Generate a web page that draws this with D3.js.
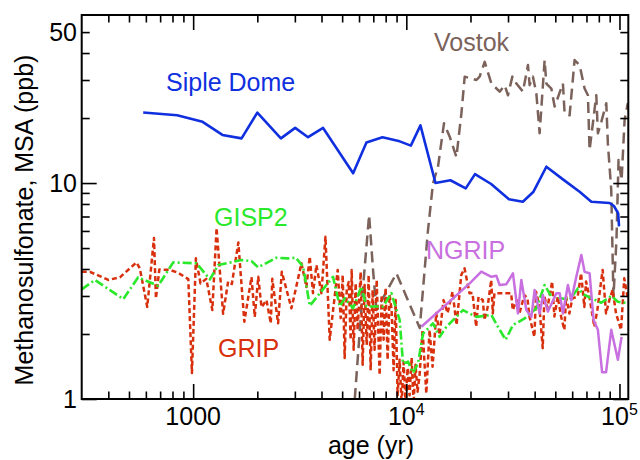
<!DOCTYPE html>
<html><head><meta charset="utf-8">
<script src="https://cdn.jsdelivr.net/npm/d3@7"></script>
<style>body{margin:0;background:#fff}svg{display:block}</style>
</head><body>
<svg id="c" width="640" height="460"></svg>
<script>
// ---- data (age in years, MSA in ppb) ----
const sipleAge = [583,841,1107,1372,1687,2000,2580,3010,3460,4070,5630,6500,7730,9310,10500,11650,13700,16100,19000,21000,25000,30300,35200,39500,45400,54300,65000,73800,89900,94200,98600,99500];
const sipleMSA = [21.2,20.6,19.2,16.7,16.1,21.2,16.1,18.0,16.3,18.0,11.1,15.4,16.3,15.6,14.9,18.5,10.0,10.3,9.45,11.0,9.9,8.41,8.19,9.12,11.9,10.4,9.12,8.19,8.08,7.83,7.24,6.3];

const vostokAge = [5730,6250,6690,6980,7240,8990,11560,12640,13340,14080,15020,15980,17180,18130,18790,21320,22080,23320,25060,27410,28930,29990,31440,32830,35250,37210,37890,39260,40740,42210,44550,45380,47900,49630,54280,55290,58340,61580,65010,68610,71110,72400,77850,79200,82170,86720,88200,91500,93700,96800,99000,102300,105700,109400];
const vostokMSA = [1.0,3.2,7.11,3.96,2.58,3.82,2.13,6.06,9.97,11.9,18.9,16.4,13.2,21.0,31.1,30.0,31.1,36.4,28.9,26.5,28.4,25.5,31.1,28.9,26.5,35.2,28.4,31.1,26.0,17.0,37.1,28.9,27.4,22.6,28.9,21.0,20.6,37.1,35.2,27.4,25.5,14.2,25.5,17.0,19.2,23.4,15.3,9.28,2.97,5.45,12.8,10.3,19.6,23.4];

const gripAge = [300,328,400,453,542,562,609,655,669,694,778,851,949,987,1030,1083,1153,1230,1288,1382,1459,1519,1629,1738,1878,1945,2021,2092,2208,2313,2351,2503,2605,2892,3221,3399,3523,3649,3787,3996,4175,4371,4612,4765,4922,5030,5137,5254,5366,5482,5542,5662,5786,5911,6107,6240,6373,6518,6656,6803,6951,7099,7261,7496,7661,7826,7998,8171,8350,8534,8717,8909,9102,9301,9506,9710,9924,10140,10360,10590,10820,11050,11290,11540,11920,12410,12855,13280,13820,14320,14950,15610,16480,17210,18100,18750,19790,20440,21270,21810,22850,23260,24030,25020,25450,25910,27360,29190,31040,31570,32880,33940,35810,37000,37810,39890,40640,42120,43640,44440,45910,48310,49500,51330,53230,55130,56190,58210,60130,63690,66040,68410,69700,72230,76200,78730,83360,86500,89620,92850,96340,101700,105300,109000];
const gripMSA = [3.88,3.88,3.56,3.66,4.29,4.03,2.67,5.57,2.92,3.98,3.96,3.84,3.59,1.32,4.48,3.43,3.60,2.58,6.19,2.48,3.50,3.41,5.30,2.28,3.67,2.40,3.68,2.66,2.87,2.24,3.60,2.24,3.88,2.63,4.25,3.30,4.56,3.09,4.17,3.09,5.64,1.88,2.98,3.96,2.37,3.75,1.55,3.20,3.48,1.88,3.96,1.69,3.44,2.09,3.87,1.44,3.37,1.78,3.75,1.36,3.20,1.69,3.56,1.29,3.03,1.88,3.27,1.52,3.03,2.58,1.36,2.87,1.04,1.52,0.95,1.48,0.95,1.39,1.04,1.55,0.95,1.44,1.08,1.29,2.09,1.06,2.09,1.41,2.50,1.98,2.87,2.50,3.14,2.20,3.75,4.03,3.09,3.10,2.16,2.97,2.87,2.32,2.64,3.56,2.49,3.09,3.09,3.09,3.09,2.58,2.87,2.49,3.03,2.93,2.41,1.94,3.14,2.66,1.72,2.98,2.64,3.50,2.41,2.98,2.41,2.09,2.98,2.49,2.93,2.98,3.82,2.67,3.50,2.98,2.16,2.58,3.96,2.49,2.87,3.20,2.49,2.09,3.62,2.98];

const gisp2Age = [300,346,470,552,685,806,1037,1198,1310,1686,1878,2017,2460,2790,3030,3280,3525,4530,4875,5145,5626,6160,6500,7780,8510,9310,9650,10180,10750,11340,11980,13340,14340,15420,18450,21320,25060,26900,29240,31640,35900,40740,44550,47900,53370,58340,63830,68610,82170,91500,98300,111500];
const gisp2MSA = [3.22,3.56,2.90,3.66,3.34,4.29,4.25,3.58,4.17,4.40,4.35,4.07,4.51,4.48,4.51,4.10,2.70,3.68,2.68,2.93,2.63,3.31,2.68,2.68,3.09,2.32,1.46,1.49,1.32,1.46,2.01,2.24,1.94,2.16,2.58,2.40,2.45,2.16,1.88,2.20,2.36,2.63,3.37,2.98,2.93,2.87,3.25,3.03,2.79,3.0,2.82,2.77];

const ngripAge = [11770,19830,22490,25060,26450,27410,29470,31640,33400,34640,36570,38600,39990,42210,43750,46170,50550,52400,54280,57300,59430,62740,66230,68610,72400,75600,79200,82900,86500,91500,98300,102300];
const ngripMSA = [2.16,3.43,3.89,3.68,3.72,3.37,3.40,3.82,2.49,3.56,2.58,2.40,3.20,2.49,3.03,2.54,3.09,3.09,2.49,3.37,2.87,3.68,4.64,3.88,3.82,2.32,2.09,1.33,1.33,2.09,1.52,1.94];

const xMajor = [1000, 10000, 100000];
const xMinor = [400,500,600,700,800,900,2000,3000,4000,5000,6000,7000,8000,9000,20000,30000,40000,50000,60000,70000,80000,90000];
const yMajor = [1, 10];
const yMinor = [2,3,4,5,6,7,8,9,20,30,40,50];
const xLabels = [{v:1000, base:"1000", sup:""},{v:10000, base:"10", sup:"4"},{v:100000, base:"10", sup:"5"}];
const yLabels = [1, 10, 50];

// ---- layout ----
const L = 81.7, R = 628.3, T = 15, B = 399;
const FONT = "'Liberation Sans', Arial, Helvetica, sans-serif";
const svg = d3.select("#c");
const x = d3.scaleLog().domain([300, 110000]).range([L, R]);
const y = d3.scaleLog().domain([1, 60]).range([B, T]);

svg.append("defs").append("clipPath").attr("id","clip")
  .append("rect").attr("x", L).attr("y", T).attr("width", R-L).attr("height", B-T);

const plot = svg.append("g").attr("clip-path","url(#clip)");
function zip(a, b){ return a.map((d,i)=>[d, b[i]]); }
const line = d3.line().x(d=>x(d[0])).y(d=>y(d[1]));

function series(ages, vals, color, dash, w){
  plot.append("path").datum(zip(ages, vals))
    .attr("d", line).attr("fill","none").attr("stroke", color)
    .attr("stroke-width", w).attr("stroke-dasharray", dash)
    .attr("stroke-linejoin","round");
}
series(vostokAge, vostokMSA, "#7b625b", "11,6", 2.5);
series(gripAge, gripMSA, "#d8300c", "5,3", 2.5);
series(gisp2Age, gisp2MSA, "#2ae82a", "9,3,2,3", 2.6);
series(ngripAge, ngripMSA, "#c870e0", null, 2.5);
series(sipleAge, sipleMSA, "#1030e0", null, 2.6);

// ---- axes (ticks inside) ----
function ax(gen, tr, vals, size){
  const g = svg.append("g").attr("transform", tr)
    .call(gen.tickValues(vals).tickSizeInner(-size).tickSizeOuter(0).tickFormat(""));
  g.select(".domain").remove();
  g.selectAll(".tick line").attr("stroke","#000").attr("stroke-width",1.6);
}
ax(d3.axisBottom(x), `translate(0,${B})`, xMinor, 7.5);
ax(d3.axisBottom(x), `translate(0,${B})`, xMajor, 15);
ax(d3.axisTop(x), `translate(0,${T})`, xMinor, 7.5);
ax(d3.axisTop(x), `translate(0,${T})`, xMajor, 15);
ax(d3.axisLeft(y), `translate(${L},0)`, yMinor, 8);
ax(d3.axisLeft(y), `translate(${L},0)`, yMajor, 15);
ax(d3.axisRight(y), `translate(${R},0)`, yMinor, 8);
ax(d3.axisRight(y), `translate(${R},0)`, yMajor, 15);

svg.append("rect").attr("x",L).attr("y",T).attr("width",R-L).attr("height",B-T)
  .attr("fill","none").attr("stroke","#000").attr("stroke-width",2);

// tick labels
const xl = svg.append("g").attr("font-family",FONT).attr("font-size",25).attr("fill","#000");
xLabels.forEach(d=>{
  const t = xl.append("text").attr("x", x(d.v)).attr("y", 425).attr("text-anchor","middle");
  t.append("tspan").text(d.base);
  if (d.sup) t.append("tspan").attr("font-size",16).attr("dy",-10.5).text(d.sup);
});
yLabels.forEach(v=>{
  xl.append("text").attr("x", 77).attr("y", y(v)+9).attr("text-anchor","end").text(v);
});

// axis titles
xl.append("text").attr("x", 371).attr("y", 454).attr("text-anchor","middle").text("age (yr)");
xl.append("text").attr("transform","translate(33,220) rotate(-90)").attr("text-anchor","middle")
  .text("Methanosulfonate, MSA (ppb)");

// series labels
const lab = svg.append("g").attr("font-family",FONT).attr("font-size",25);
lab.append("text").attr("x",166).attr("y",91).attr("fill","#1030e0").text("Siple Dome");
lab.append("text").attr("x",434).attr("y",51).attr("fill","#7b625b").text("Vostok");
lab.append("text").attr("x",214).attr("y",225.5).attr("fill","#2ae82a").text("GISP2");
lab.append("text").attr("x",218).attr("y",356.5).attr("fill","#d8300c").text("GRIP");
lab.append("text").attr("x",426).attr("y",259).attr("fill","#c870e0").text("NGRIP");
</script>
</body></html>
